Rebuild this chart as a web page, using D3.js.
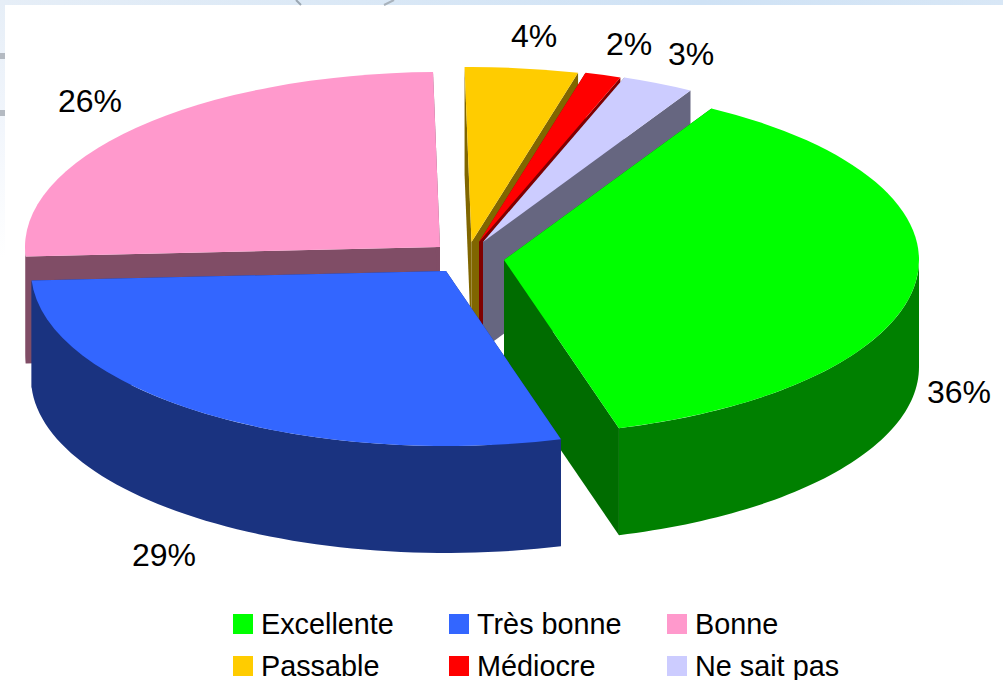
<!DOCTYPE html>
<html><head><meta charset="utf-8">
<script src="https://cdn.jsdelivr.net/npm/d3@7"></script>
<style>html,body{margin:0;padding:0;background:#fff}svg{display:block}text{font-family:"Liberation Sans",Arial,sans-serif;fill:#000}</style>
</head><body><svg id="c" width="1003" height="680"></svg>
<script>
const categories=["Excellente","Très bonne","Bonne","Passable","Médiocre","Ne sait pas"];
const sliceShares=[37.2,28.6,25.6,4.4,1.4,2.8];
const percentLabels=["36%","29%","26%","4%","2%","3%"];
const topColors=["#00FF00","#3366FF","#FF99CC","#FFCC00","#FF0000","#CCCCFF"];
const wallColors=["#008000","#1A3380","#804D66","#806600","#800000","#666680"];
const radialColors=["#006C00","#1A3380","#804D66","#806600","#800000","#666680"];

// layout
const W=1003,H=680,rx=415,ry=175,depth=107;
const sliceCentres=[[504,260],[446,271],[440,247],[471.5,242],[479,242],[483,242]];
const labelPos=[[959,403],[164,566],[90,112],[534,47],[629,55],[691,65]];
const paintOrder=[2,3,4,5,0,1];
const legendCols=[233,449,667],legendRows=[614,656];

const svg=d3.select("#c");
const defs=svg.append("defs");
const lg=defs.append("linearGradient").attr("id","leftBand").attr("x1",0).attr("y1",0).attr("x2",0).attr("y2",1);
lg.append("stop").attr("offset",0).attr("stop-color","#E6EEF7");
lg.append("stop").attr("offset",0.5).attr("stop-color","#F2F6FC");
lg.append("stop").attr("offset",1).attr("stop-color","#FFFFFF");
const tg=defs.append("linearGradient").attr("id","topBand");
tg.append("stop").attr("offset",0).attr("stop-color","#E6EEF7");
tg.append("stop").attr("offset",0.3).attr("stop-color","#DCE9F6");
tg.append("stop").attr("offset",0.7).attr("stop-color","#CFE2F5");
tg.append("stop").attr("offset",1).attr("stop-color","#D8E7F6");
svg.append("rect").attr("width",W).attr("height",H).attr("fill","#fff");
svg.append("rect").attr("width",5).attr("height",258).attr("fill","url(#leftBand)");
svg.append("rect").attr("width",W).attr("height",5).attr("fill","url(#topBand)");
// faint background picture showing through the band
svg.append("rect").attr("x",0).attr("y",53).attr("width",5).attr("height",6).attr("fill","#B4BAC2");
svg.append("rect").attr("x",0).attr("y",110).attr("width",5).attr("height",6).attr("fill","#B4BAC2");
svg.append("path").attr("d","M296,0L301,5").attr("stroke","#9AA6B2").attr("stroke-width",2).attr("fill","none");
svg.append("path").attr("d","M394,0L384,5").attr("stroke","#A8B2BC").attr("stroke-width",2).attr("fill","none");

const pie=d3.pie().sort(null).startAngle(30*Math.PI/180).endAngle(390*Math.PI/180)(sliceShares);
const arcGen=d3.arc().innerRadius(0).outerRadius(rx);
const px=(c,t)=>c[0]+rx*Math.sin(t), py=(c,t)=>c[1]-ry*Math.cos(t);
const g=svg.append("g");

paintOrder.forEach(i=>{
  const a=pie[i],c=sliceCentres[i];
  const s=g.append("g");
  // radial faces
  [a.startAngle,a.endAngle].forEach(t=>{
    const pts=[[c[0],c[1]],[px(c,t),py(c,t)],[px(c,t),py(c,t)+depth],[c[0],c[1]+depth]];
    s.append("path").attr("d",d3.line()(pts)+"Z").attr("fill",radialColors[i]);
  });
  // outer curved wall: only the part that faces the viewer
  const ranges=[[Math.PI/2,3*Math.PI/2],[Math.PI/2+2*Math.PI,3*Math.PI/2+2*Math.PI]];
  ranges.forEach(r=>{
    const t0=Math.max(a.startAngle,r[0]),t1=Math.min(a.endAngle,r[1]);
    if(t1<=t0)return;
    const ts=d3.range(0,61).map(j=>t0+(t1-t0)*j/60);
    const up=ts.map(t=>[px(c,t),py(c,t)]);
    const dn=ts.slice().reverse().map(t=>[px(c,t),py(c,t)+depth]);
    s.append("path").attr("d",d3.line()(up.concat(dn))+"Z").attr("fill",wallColors[i]);
  });
  // top face
  s.append("path").attr("d",arcGen(a))
   .attr("transform",`translate(${c[0]},${c[1]}) scale(1,${ry/rx})`)
   .attr("fill",topColors[i]);
});

percentLabels.forEach((t,i)=>{
  svg.append("text").attr("x",labelPos[i][0]).attr("y",labelPos[i][1])
    .attr("text-anchor","middle").attr("font-size",32).text(t);
});

categories.forEach((name,i)=>{
  const x=legendCols[i%3],y=legendRows[Math.floor(i/3)];
  svg.append("rect").attr("x",x).attr("y",y).attr("width",20).attr("height",20).attr("fill",topColors[i]);
  svg.append("text").attr("x",x+28).attr("y",y+20).attr("font-size",28.8).text(name);
});
</script></body></html>
